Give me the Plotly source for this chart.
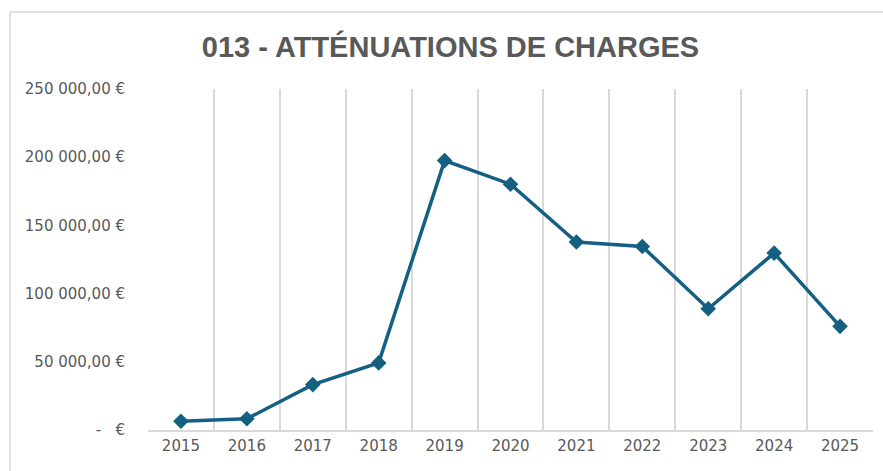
import plotly.graph_objects as go

years = ["2015", "2016", "2017", "2018", "2019", "2020", "2021", "2022", "2023", "2024", "2025"]
values = [6400, 8200, 33300, 49200, 197500, 180200, 137800, 134500, 88900, 129700, 76000]
ytick_vals = [0, 50000, 100000, 150000, 200000, 250000]
ytick_text = ["-\u00a0\u00a0\u00a0€", "50\u00a0000,00\u00a0€", "100\u00a0000,00\u00a0€",
              "150\u00a0000,00\u00a0€", "200\u00a0000,00\u00a0€", "250\u00a0000,00\u00a0€"]
title_text = "013 - ATTÉNUATIONS DE CHARGES"

W, H = 883, 471
L, R, T, B = 148, 10, 89, 40.5

fig = go.Figure(go.Scatter(
    x=years, y=values, mode="lines+markers",
    line=dict(color="#156082", width=3.5),
    marker=dict(symbol="diamond", size=12, color="#156082"),
    hoverinfo="x+y",
))

fig.update_layout(
    width=W, height=H,
    margin=dict(l=L, r=R, t=T, b=B, pad=0),
    paper_bgcolor="white", plot_bgcolor="white",
    showlegend=False,
    title=dict(text=title_text, xref="container", x=450.5 / W, xanchor="center",
               yref="container", y=1 - 46.5 / H, yanchor="middle",
               font=dict(family="Liberation Sans", size=29, color="#595959", weight="bold")),
    xaxis=dict(type="category", range=[-0.5, 10.5], tickson="boundaries",
               showgrid=True, gridcolor="#d9d9d9", gridwidth=1.5,
               showline=True, linecolor="#d9d9d9", linewidth=1.5,
               ticks="", ticklabelstandoff=1,
               tickfont=dict(family="DejaVu Sans", size=15, color="#595959"),
               zeroline=False, fixedrange=True),
    yaxis=dict(range=[0, 250000], tickvals=ytick_vals, ticktext=ytick_text,
               showgrid=False, zeroline=False, showline=False, ticks="",
               ticklabelstandoff=22,
               tickfont=dict(family="DejaVu Sans", size=15, color="#595959"),
               fixedrange=True),
    shapes=[dict(type="rect", xref="paper", yref="paper",
                 x0=(10 - L) / (W - L - R), x1=(W + 20 - L) / (W - L - R),
                 y0=(-20 - B) / (H - T - B), y1=(H - 12 - B) / (H - T - B),
                 line=dict(color="#d9d9d9", width=1.5), fillcolor="rgba(0,0,0,0)",
                 layer="below")],
)

fig.write_html("out.html", config={"displayModeBar": False},
               post_script="document.body.style.margin='0';document.body.style.overflow='hidden';")
